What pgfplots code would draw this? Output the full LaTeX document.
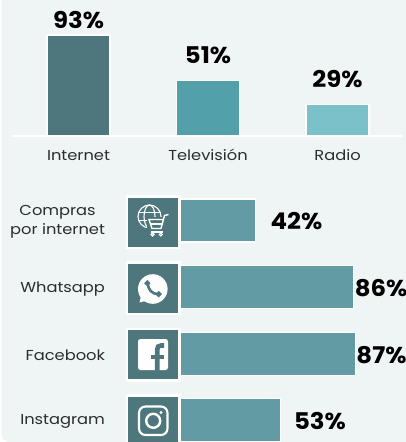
\documentclass[border=0pt]{standalone}
\usepackage{pgfplots}
\pgfplotsset{compat=1.18}
\usepackage{fontspec}
\setmainfont{Poppins}
\newfontfamily\labelfont[FakeStretch=1.13]{Poppins}
\newfontfamily\valuefont[FakeStretch=1.06]{Poppins}
\definecolor{panel}{RGB}{239,244,245}
\definecolor{deep}{RGB}{77,119,124}
\definecolor{midteal}{RGB}{82,160,170}
\definecolor{lightteal}{RGB}{122,193,202}
\definecolor{barteal}{RGB}{98,155,163}
\definecolor{ink}{RGB}{45,45,45}
\newcommand{\iconbox}[1]{%
  \fill[white] (126,#1-27) rectangle (180.5,#1+27);
  \fill[deep] (128.3,#1-24.5) rectangle (178.3,#1+24.5);}
\begin{document}
\begin{tikzpicture}[x=1pt,y=-1pt]
\path[use as bounding box] (0,0) rectangle (406,442);
\clip (0,0) rectangle (406,442);
\fill[white] (0,0) rectangle (406,442);
\fill[panel,rounded corners=8pt] (1.5,-20) rectangle (430,442);

% Access by medium
\begin{axis}[
  at={(13pt,-136pt)}, anchor=south west,
  scale only axis, width=389pt, height=108.5pt,
  xmin=-0.506, xmax=2.498, ymin=0, ymax=100,
  axis y line=none, axis x line*=bottom,
  axis line style={white,line width=1.6pt,-},
  x axis line style={-},
  xtick={0,1,2}, xticklabels={Internet,Televisión,Radio},
  major tick length=0pt,
  xticklabel style={font=\labelfont\fontsize{14.4}{17}\selectfont,text=ink,text height=12pt,text depth=3pt,yshift=-9pt},
  ybar, bar width=63pt, bar shift=0pt,
  clip=false,
  /pgf/number format/assume math mode=true,
  nodes near coords={\pgfmathprintnumber{\pgfplotspointmeta}\%},
  every node near coord/.append style={font=\valuefont\fontsize{23}{26}\selectfont\bfseries,text=black},
]
\addplot[fill=deep,draw=white,line width=1.2pt,every node near coord/.append style={yshift=2.5pt}] coordinates {(0,93)};
\addplot[fill=midteal,draw=white,line width=1.2pt,every node near coord/.append style={yshift=12.5pt}] coordinates {(1,51)};
\addplot[fill=lightteal,draw=white,line width=1.2pt,every node near coord/.append style={yshift=12.5pt}] coordinates {(2,29)};
\end{axis}

% Online activities
\begin{axis}[
  at={(162.5pt,-453.5pt)}, anchor=south west,
  scale only axis, width=243.5pt, height=266.3pt,
  xmin=0, xmax=109.7, ymin=-0.5, ymax=3.5, y dir=reverse,
  axis x line=none, axis y line*=left,
  axis line style={draw=none},
  ytick={0,1,2,3},
  yticklabels={{Compras\\por internet},Whatsapp,Facebook,Instagram},
  major tick length=0pt,
  yticklabel style={font=\labelfont\fontsize{14.4}{19}\selectfont,text=ink,align=center,xshift=-54pt,yshift=-1.5pt},
  xbar, bar width=43pt, bar shift=0pt,
  clip=false,
  point meta=x,
  /pgf/number format/assume math mode=true,
  visualization depends on={\thisrow{gap} \as \labelgap},
  nodes near coords={\pgfmathprintnumber{\pgfplotspointmeta}\%},
  every node near coord/.append style={font=\valuefont\fontsize{23}{26}\selectfont\bfseries,text=black,xshift=\labelgap pt,yshift=-1pt},
]
\addplot[fill=barteal,draw=white,line width=1.1pt] table {
x y gap
42 0 11
86 1 -2.5
87 2 -3
53 3 10
};
\end{axis}

% Icons over the start of each bar
\iconbox{222}
\iconbox{288}
\iconbox{354.5}
\iconbox{421}

% Globe and shopping cart
\begin{scope}[white,line width=1.1pt]
  \draw (149.5,216.5) circle (11.5);
  \draw (149.5,216.5) ellipse (5.5 and 11.5);
  \draw (138.3,212.5) -- (160.7,212.5);
  \draw (138.3,220.5) -- (160.7,220.5);
  \fill[deep] (147,217) rectangle (172,240);
  \draw[line width=1.4pt] (168.5,214.5) -- (164.5,215.5) -- (161,228.5) -- (152,228.5) -- (149,219.5) -- (163.5,219.5);
  \draw (151,224) -- (162.5,224);
  \draw (150.5,232) -- (163,232);
  \draw (152.5,234.5) circle (1.5);
  \draw (160.8,234.5) circle (1.5);
\end{scope}

% Whatsapp
\fill[white] (152.8,289) circle (14.8);
\fill[white] (141.5,294) -- (139.5,302.5) -- (149,300) -- cycle;
\draw[deep,line width=2.6pt,line cap=round] (147.8,283.5) .. controls (148,289.5) and (152,294) .. (158,294.2);
\fill[deep,rotate around={45:(147.2,283)}] (144.9,281) rectangle (149.5,285.5);
\fill[deep,rotate around={45:(158.5,294)}] (156.2,292) rectangle (160.8,296.5);

% Facebook
\fill[white,rounded corners=2.5pt] (138,339) rectangle (168,370);
\draw[deep,line width=4.6pt] (164,345.5) -- (161,345.5) .. controls (158,345.5) and (157.2,347) .. (157.2,350) -- (157.2,370.5);
\draw[deep,line width=4pt] (150.5,356.5) -- (163.5,356.5);

% Instagram
\draw[white,line width=2.1pt,rounded corners=6.5pt] (139,406.5) rectangle (167.5,435);
\draw[white,line width=2.4pt] (153.2,420.8) circle (7);
\fill[white] (161,412.5) circle (1.7);
\end{tikzpicture}
\end{document}
